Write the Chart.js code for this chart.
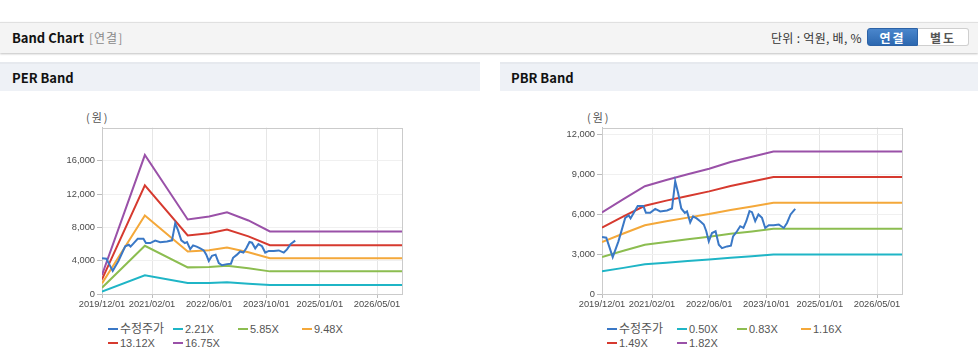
<!DOCTYPE html>
<html>
<head>
<meta charset="utf-8">
<script src="https://cdn.jsdelivr.net/npm/chart.js@4"></script>
<style>
    body { margin: 0; width: 978px; height: 361px; overflow: hidden; background: #fff; position: relative;
        font-family: 'Liberation Sans', 'Noto Sans CJK KR', sans-serif; }
    .abs { position: absolute; }
    .bar { left: 0; top: 22px; width: 978px; height: 30px; background: #f4f4f4;
        border-top: 1px solid #e0e0e0; box-shadow: 0 1px 2px rgba(0,0,0,0.25); }
    .title { font-family: 'Noto Sans CJK KR', sans-serif; font-weight: bold; font-size: 13px; color: #111; }
    .sub { font-family: 'Noto Sans CJK KR', sans-serif; font-size: 12px; color: #8a8a8a; letter-spacing: 1px; }
    .unit { font-family: 'Noto Sans CJK KR', sans-serif; font-size: 12px; color: #333; letter-spacing: 0.3px; }
    .btn { top: 28px; height: 18px; width: 51px; line-height: 18px; text-align: center; letter-spacing: 2px;
        font-family: 'Noto Sans CJK KR', sans-serif; font-size: 12px; font-weight: bold; box-sizing: border-box; }
    .panel { top: 62px; height: 29px; background: #eef1f6; border-top: 2px solid #e6e9ee; box-sizing: border-box; }
    .unitlbl { font-size: 11px; color: #555; top: 109px; font-family: 'Noto Sans CJK KR', sans-serif; letter-spacing: 2px; }
    .leg { font-size: 11px; color: #555; white-space: nowrap; line-height: 14px; }
    .leg i { display: inline-block; width: 10px; height: 2px; vertical-align: middle; margin-right: 2px; position: relative; top: -1px; }
</style>
</head>
<body>
<div class="abs bar"></div>
<div class="abs title" style="left:12px; top:28px;">Band Chart</div>
<div class="abs sub" style="left:89px; top:29px;">[연결]</div>
<div class="abs unit" style="left:771px; top:29px;">단위 : 억원, 배, %</div>
<div class="abs btn" style="left:867px; background: linear-gradient(#4a86cc, #2c68b0); color:#fff; border:1px solid #2c62a6; border-radius:3px 0 0 3px;">연결</div>
<div class="abs btn" style="left:918px; background:#fff; color:#555; border:1px solid #cfcfcf; border-left:none; border-radius:0 3px 3px 0;">별도</div>

<div class="abs panel" style="left:0; width:480px;"></div>
<div class="abs title" style="left:12px; top:68px;">PER Band</div>
<div class="abs panel" style="left:500px; width:478px;"></div>
<div class="abs title" style="left:511px; top:68px;">PBR Band</div>

<div class="abs unitlbl" style="left:86px;">(원)</div>
<div class="abs unitlbl" style="left:587px;">(원)</div>

<canvas id="per" class="abs" style="left:50px; top:120px;" width="360" height="195"></canvas>
<canvas id="pbr" class="abs" style="left:550px; top:120px;" width="360" height="195"></canvas>

<div id="perLegend"></div>
<div id="pbrLegend"></div>

<script>
// x positions are months counted from 2019/12/01, axis runs to 2026/12/01
const axisEnd = 84
const tickMonths = [0, 14, 30, 46, 61, 77]
const tickLabels = ['2019/12/01', '2021/02/01', '2022/06/01', '2023/10/01', '2025/01/01', '2026/05/01']

// 수정주가
const priceMonths = [0, 1.2, 3, 4.6, 6.5, 7.5, 8, 8.9, 10, 11.6, 12.3, 13.5, 14.9, 16.3, 18.2, 19.6, 20.5, 21.3, 22.2, 23.2, 23.8,
    24.7, 25.5, 26.5, 27.5, 28.5, 29.2, 29.9, 30.8, 31.8, 32.7, 33.6, 35, 36.1, 36.7, 37.8, 38.7, 39.6, 40.4, 41.3, 42,
    42.9, 43.8, 44.8, 45.7, 46.7, 48.1, 49.5, 50.9, 51.8, 52.8, 54.1]
const priceValues = [4300, 4250, 2780, 3970, 5740, 5920, 5700, 6120, 6630, 6630, 6120, 6120, 6420, 6230, 6300, 6450, 8500, 7640, 6450, 6120, 6230,
    5400, 5850, 5700, 5490, 5240, 4730, 3970, 4600, 4730, 3720, 3460, 3590, 3640, 4350, 4730, 5110, 4980, 5490, 6250, 6170,
    5490, 6000, 5740, 4980, 5180, 5180, 5240, 4980, 5360, 6000, 6420]

// PER band
const perLabels = ['2.21X', '5.85X', '9.48X', '13.12X', '16.75X']
const perMonths = [0, 12, 24, 30, 35, 41, 47, 84]
const per221 = [280, 2250, 1330, 1330, 1400, 1230, 1070, 1070]
const per585 = [750, 5800, 3200, 3250, 3400, 3100, 2720, 2720]
const per948 = [1280, 9430, 5100, 5270, 5600, 5010, 4300, 4300]
const per1312 = [1750, 13050, 7040, 7300, 7740, 6930, 5860, 5860]
const per1675 = [2300, 16700, 8960, 9310, 9830, 8840, 7520, 7520]

// PBR band
const pbrLabels = ['0.50X', '0.83X', '1.16X', '1.49X', '1.82X']
const pbrMonths = [0, 6, 12, 18, 24, 30, 36, 42, 48, 84]
const pbr050 = [1720, 1970, 2240, 2360, 2480, 2600, 2740, 2850, 2980, 2980]
const pbr083 = [2790, 3260, 3710, 3920, 4120, 4310, 4540, 4720, 4920, 4920]
const pbr116 = [3920, 4560, 5180, 5480, 5760, 6030, 6340, 6600, 6880, 6880]
const pbr149 = [5000, 5850, 6650, 7040, 7390, 7740, 8150, 8480, 8820, 8820]
const pbr182 = [6150, 7150, 8130, 8600, 9030, 9450, 9950, 10350, 10750, 10750]

const colors = ['#3a78c6', '#1fb5c6', '#8cbd50', '#f4a83a', '#d63a2f', '#9a51a8']

Chart.defaults.font.family = "'Liberation Sans', 'Noto Sans CJK KR', sans-serif"

const points = (months, values) => months.map((m, i) => ({ x: m, y: values[i] }))

const frame = {
    id: 'frame',
    beforeDatasetsDraw({ ctx, chartArea }) {
        const { left, top, right, bottom } = chartArea
        ctx.save()
        ctx.strokeStyle = '#cbcbcb'
        ctx.lineWidth = 1
        ctx.strokeRect(Math.round(left) + 0.5, Math.round(top) + 0.5, Math.round(right - left), Math.round(bottom - top))
        ctx.restore()
    }
}

function makeChart(id, months, bands, labels, yMax, yTicks, legendId, legendLeft) {
    const datasets = [{ label: '수정주가', data: points(priceMonths, priceValues) }]
    bands.forEach((band, i) => datasets.push({ label: labels[i], data: points(months, band) }))
    datasets.forEach((ds, i) => Object.assign(ds, {
        borderColor: colors[i],
        backgroundColor: colors[i],
        borderWidth: 2,
        pointRadius: 0,
        tension: 0,
    }))

    new Chart(document.getElementById(id), {
        type: 'line',
        data: { datasets },
        plugins: [frame],
        options: {
            responsive: false,
            animation: false,
            devicePixelRatio: 1,
            layout: { padding: { top: 7, right: 8, left: 0, bottom: 0 } },
            plugins: { legend: false, tooltip: false, title: false },
            scales: {
                x: {
                    type: 'linear',
                    min: 0,
                    max: axisEnd,
                    afterBuildTicks: s => { s.ticks = tickMonths.map(value => ({ value })) },
                    afterFit: s => { s.height = 21 },
                    ticks: {
                        callback: (v, i) => tickLabels[i],
                        autoSkip: false,
                        maxRotation: 0,
                        padding: 1,
                        color: '#4a4a4a',
                        font: { size: 9.3 },
                    },
                    grid: { color: '#e6e6e6', tickColor: '#bdbdbd', tickLength: 4 },
                    border: { color: '#c4c4c4' },
                },
                y: {
                    min: 0,
                    max: yMax,
                    afterBuildTicks: s => { s.ticks = yTicks.map(value => ({ value })) },
                    afterFit: s => { s.width = 52 },
                    ticks: {
                        callback: v => v.toLocaleString('en-US'),
                        padding: 2,
                        color: '#4a4a4a',
                        font: { size: 9.3 },
                    },
                    grid: { color: '#f0f0f0', tickColor: '#bdbdbd', tickLength: 5 },
                    border: { color: '#c4c4c4' },
                },
            },
        },
    })

    // html legend laid out in columns like the original
    const legend = document.getElementById(legendId)
    datasets.forEach((ds, i) => {
        const item = document.createElement('div')
        item.className = 'abs leg'
        item.style.left = legendLeft[i % 4] + 'px'
        item.style.top = (i < 4 ? 322 : 336) + 'px'
        item.innerHTML = `<i style="background:${ds.borderColor}"></i>${ds.label}`
        if (i === 0) item.style.fontSize = '12px'
        legend.appendChild(item)
    })
}

makeChart('per', perMonths, [per221, per585, per948, per1312, per1675], perLabels,
    20000, [0, 4000, 8000, 12000, 16000], 'perLegend', [108, 173, 238, 302])
makeChart('pbr', pbrMonths, [pbr050, pbr083, pbr116, pbr149, pbr182], pbrLabels,
    12550, [0, 3000, 6000, 9000, 12000], 'pbrLegend', [607, 677, 737, 801])
</script>
</body>
</html>
